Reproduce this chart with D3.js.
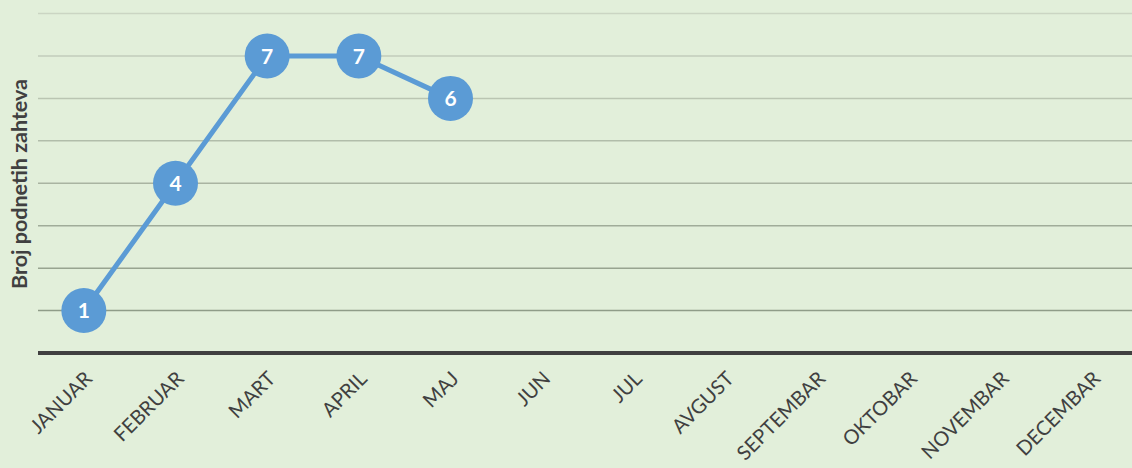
<!DOCTYPE html>
<html>
<head>
<meta charset="utf-8">
<title>Broj podnetih zahteva</title>
<script src="https://cdn.jsdelivr.net/npm/d3@7"></script>
<style>
  body { margin: 0; background: #e2efda; }
  svg { display: block; }
</style>
</head>
<body>
<script>
// data
var months = ["JANUAR", "FEBRUAR", "MART", "APRIL", "MAJ", "JUN", "JUL", "AVGUST", "SEPTEMBAR", "OKTOBAR", "NOVEMBAR", "DECEMBAR"];
var values = [1, 4, 7, 7, 6];
var yTicks = [1, 2, 3, 4, 5, 6, 7, 8];

var width = 1132, height = 468;
var plotLeft = 38, plotRight = 1138, plotTop = 13.5, plotBottom = 353;

var svg = d3.select("body").append("svg")
  .attr("width", width)
  .attr("height", height);

svg.append("rect").attr("width", width).attr("height", height).attr("fill", "#e2efda");

var x = d3.scalePoint().domain(months).range([plotLeft, plotRight]).padding(0.5);
var y = d3.scaleLinear().domain([0, 8]).range([plotBottom, plotTop]);

// gridlines, lighter toward the top
var gridColor = d3.scaleLinear().domain([1, 8]).range(["#8f9c88", "#cbd5c3"]);
svg.append("g").selectAll("line")
  .data(yTicks)
  .enter().append("line")
  .attr("x1", plotLeft).attr("x2", width)
  .attr("y1", function(d) { return y(d); })
  .attr("y2", function(d) { return y(d); })
  .attr("stroke", function(d) { return gridColor(d); })
  .attr("stroke-width", 1.5);

// x axis
var xAxis = svg.append("g")
  .attr("transform", "translate(0," + plotBottom + ")")
  .call(d3.axisBottom(x).tickSize(0).tickPadding(0));
xAxis.select(".domain").remove();
svg.append("line")
  .attr("x1", plotLeft).attr("x2", width)
  .attr("y1", plotBottom).attr("y2", plotBottom)
  .attr("stroke", "#404040").attr("stroke-width", 4);
xAxis.selectAll("text")
  .attr("fill", "#404040")
  .style("font-family", "Lato, sans-serif")
  .style("font-size", "20px")
  .attr("text-anchor", "end")
  .attr("dy", null)
  .attr("y", 0)
  .attr("transform", "translate(9,27) rotate(-45)");

// y axis title
svg.append("text")
  .attr("transform", "translate(27," + 184 + ") rotate(-90)")
  .attr("text-anchor", "middle")
  .attr("fill", "#404040")
  .style("font-family", "Lato, sans-serif")
  .style("font-size", "21.5px")
  .style("font-weight", "bold")
  .text("Broj podnetih zahteva");

// line
var line = d3.line()
  .x(function(d, i) { return x(months[i]); })
  .y(function(d) { return y(d); });
svg.append("path")
  .datum(values)
  .attr("d", line)
  .attr("fill", "none")
  .attr("stroke", "#5b9bd5")
  .attr("stroke-width", 5);

var pts = svg.append("g").selectAll("g")
  .data(values)
  .enter().append("g")
  .attr("transform", function(d, i) { return "translate(" + x(months[i]) + "," + y(d) + ")"; });
pts.append("circle").attr("r", 22.5).attr("fill", "#5b9bd5");
pts.append("text")
  .attr("text-anchor", "middle")
  .attr("dy", "0.36em")
  .attr("fill", "#ffffff")
  .style("font-family", "Lato, sans-serif")
  .style("font-size", "21px")
  .style("font-weight", "bold")
  .text(function(d) { return d; });
</script>
</body>
</html>
